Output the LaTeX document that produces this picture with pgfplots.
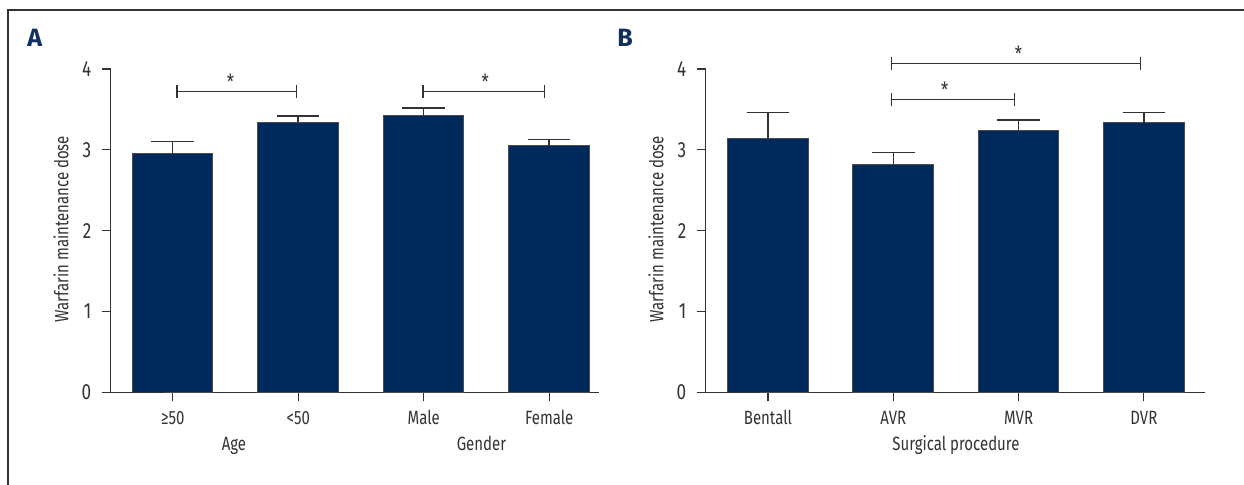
\documentclass[border=0pt]{standalone}
\usepackage{fontspec}
\setmainfont{Fira Sans}[FakeStretch=0.78]
\newfontfamily\lblfont{Fira Sans}
\usepackage{pgfplots}
\pgfplotsset{compat=1.18}
\usetikzlibrary{arrows.meta}
\definecolor{navy}{RGB}{0,42,92}
\definecolor{txt}{RGB}{51,51,51}
\definecolor{lbl}{RGB}{16,48,96}

\pgfplotsset{
 mybar/.style={
  scale only axis, height=161.65pt, ymin=0, ymax=4, ytick={0,1,2,3,4},
  axis x line=bottom, axis y line=left,
  axis line style={txt, line width=0.6pt, -},
  tick style={txt, line width=0.6pt}, major tick length=4.5pt, tick align=outside,
  xtick=data, clip=false,
  ybar, bar width=40.3pt,
  font=\fontsize{9.6}{11}\selectfont,
  tick label style={font=\fontsize{9.6}{11}\selectfont, text=txt, inner sep=0pt},
  yticklabel style={xshift=-5pt, font=\fontsize{11}{13}\selectfont},
  xticklabel style={anchor=base, yshift=-11.85pt},
  /pgf/number format/assume math mode=true,
 },
 barplot/.style={fill=navy, draw=gray!60!black, line width=0.5pt,
   error bars/.cd, y dir=plus, y explicit,
   error bar style={txt, line width=0.75pt},
   error mark options={rotate=90, mark size=10.65pt, line width=0.75pt, txt}},
}
\tikzset{
 bracket/.style={draw=txt, line width=0.6pt, {Bar[width=6.7pt, line width=0.6pt]}-{Bar[width=6.7pt, line width=0.6pt]}},
 star/.style={anchor=base, text=txt, font=\fontsize{10.5}{12}\selectfont},
}

\begin{document}
\begin{tikzpicture}
\path[use as bounding box] (0,0) rectangle (622pt,242.5pt);
\draw[line width=0.7pt, black!80] (4pt,0) -- (4pt,237.5pt) -- (622pt,237.5pt);
\node[text=lbl, font=\lblfont\bfseries\fontsize{12.5}{14}\selectfont] at (17.35pt,223.75pt) {A};
\node[text=lbl, font=\lblfont\bfseries\fontsize{12.5}{14}\selectfont] at (312.5pt,223.75pt) {B};

% Panel A
\begin{axis}[mybar, at={(55.35pt,46.35pt)}, anchor=south west,
  width=244.15pt, xmin=-0.494, xmax=3.397,
  xticklabels={≥50, <50, Male, Female}]
\addplot[barplot] coordinates {
 (0,2.953) +- (0,0.147)
 (1,3.340) +- (0,0.076)
 (2,3.423) +- (0,0.097)
 (3,3.052) +- (0,0.074)
};
\draw[txt, line width=0.6pt] (axis cs:-0.494,0) -- ++(-4pt,0);
\draw[bracket] (axis cs:0.03,3.725) -- (axis cs:0.99,3.725);
\draw[bracket] (axis cs:1.99,3.72) -- (axis cs:2.97,3.72);
\node[star] at ([yshift=1pt]axis cs:0.46,3.725) {*};
\node[star] at ([yshift=1pt]axis cs:2.49,3.72) {*};
\node[anchor=base, text=txt] at ([yshift=-29.2pt]axis cs:0.488,0) {Age};
\node[anchor=base, text=txt] at ([yshift=-29.2pt]axis cs:2.46,0) {Gender};
\node[anchor=base, rotate=90, text=txt] at ([xshift=-21.2pt]axis cs:-0.494,2.02) {Warfarin maintenance dose};
\end{axis}

% Panel B
\begin{axis}[mybar, at={(352.85pt,46.35pt)}, anchor=south west,
  width=249.65pt, xmin=-0.497, xmax=3.488,
  xticklabels={Bentall, AVR, MVR, DVR}]
\addplot[barplot] coordinates {
 (0,3.143) +- (0,0.317)
 (1,2.813) +- (0,0.152)
 (2,3.243) +- (0,0.127)
 (3,3.337) +- (0,0.123)
};
\draw[txt, line width=0.6pt] (axis cs:-0.497,0) -- ++(-4pt,0);
\draw[bracket] (axis cs:0.979,4.07) -- (axis cs:2.977,4.07);
\draw[bracket] (axis cs:0.979,3.62) -- (axis cs:1.974,3.62);
\node[star] at ([yshift=1pt]axis cs:2.0,4.07) {*};
\node[star] at ([yshift=1pt]axis cs:1.41,3.62) {*};
\node[anchor=base, text=txt] at ([yshift=-29.2pt]axis cs:1.5,0) {Surgical procedure};
\node[anchor=base, rotate=90, text=txt] at ([xshift=-21.2pt]axis cs:-0.497,2.02) {Warfarin maintenance dose};
\end{axis}
\end{tikzpicture}
\end{document}
